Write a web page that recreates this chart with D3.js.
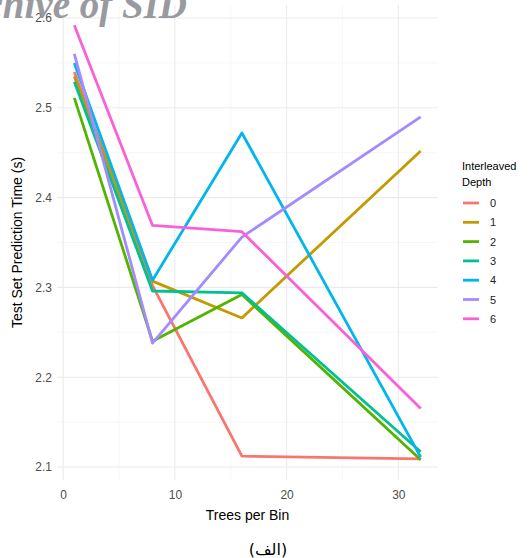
<!DOCTYPE html>
<html>
<head>
<meta charset="utf-8">
<script src="https://cdn.jsdelivr.net/npm/d3@7"></script>
<style>
body { margin: 0; background: #fff; }
text { font-family: "Liberation Sans", Arial, sans-serif; }
</style>
</head>
<body>
<svg id="chart" width="531" height="558"></svg>
<script>
// values
const treesPerBin = [1, 8, 16, 32];
const depths = ["0", "1", "2", "3", "4", "5", "6"];
const depth0 = [2.540, 2.302, 2.112, 2.109];
const depth1 = [2.535, 2.307, 2.266, 2.452];
const depth2 = [2.511, 2.240, 2.292, 2.108];
const depth3 = [2.529, 2.296, 2.294, 2.117];
const depth4 = [2.550, 2.308, 2.472, 2.111];
const depth5 = [2.560, 2.238, 2.356, 2.490];
const depth6 = [2.592, 2.369, 2.362, 2.165];
const xTicks = [0, 10, 20, 30];
const yTicks = [2.1, 2.2, 2.3, 2.4, 2.5, 2.6];
const colors = ["#F8766D", "#C49A00", "#53B400", "#00C094", "#00B6EB", "#A58AFF", "#FB61D7"];

const series = [depth0, depth1, depth2, depth3, depth4, depth5, depth6];

const svg = d3.select("#chart");
const panel = { left: 57, right: 438, top: 5, bottom: 480 };

const x = d3.scaleLinear().domain([-0.55, 33.55]).range([panel.left, panel.right]);
const y = d3.scaleLinear().domain([2.0855, 2.6145]).range([panel.bottom, panel.top]);

// grid: minor first, then major
const g = svg.append("g");
const xMinor = [5, 15, 25];
const yMinor = [2.15, 2.25, 2.35, 2.45, 2.55];
g.selectAll(".xm").data(xMinor).join("line")
  .attr("x1", d => x(d)).attr("x2", d => x(d))
  .attr("y1", panel.top).attr("y2", panel.bottom)
  .attr("stroke", "#f2f2f2").attr("stroke-width", 0.6);
g.selectAll(".ym").data(yMinor).join("line")
  .attr("y1", d => y(d)).attr("y2", d => y(d))
  .attr("x1", panel.left).attr("x2", panel.right)
  .attr("stroke", "#f2f2f2").attr("stroke-width", 0.6);
g.selectAll(".xg").data(xTicks).join("line")
  .attr("x1", d => x(d)).attr("x2", d => x(d))
  .attr("y1", panel.top).attr("y2", panel.bottom)
  .attr("stroke", "#ebebeb").attr("stroke-width", 1.1);
g.selectAll(".yg").data(yTicks).join("line")
  .attr("y1", d => y(d)).attr("y2", d => y(d))
  .attr("x1", panel.left).attr("x2", panel.right)
  .attr("stroke", "#ebebeb").attr("stroke-width", 1.1);

// axes labels
const xAxis = svg.append("g").attr("transform", `translate(0,${panel.bottom + 4})`)
  .call(d3.axisBottom(x).tickValues(xTicks).tickSize(0).tickPadding(6).tickFormat(d3.format("d")));
xAxis.select(".domain").remove();
xAxis.selectAll("text").attr("fill", "#4d4d4d").style("font-size", "12px");

const yAxis = svg.append("g").attr("transform", `translate(${panel.left - 4},0)`)
  .call(d3.axisLeft(y).tickValues(yTicks).tickSize(0).tickPadding(1).tickFormat(d3.format(".1f")));
yAxis.select(".domain").remove();
yAxis.selectAll("text").attr("fill", "#4d4d4d").style("font-size", "12px");

// lines
const line = d3.line().x((d, i) => x(treesPerBin[i])).y(d => y(d));
svg.append("g").selectAll("path").data(series).join("path")
  .attr("d", line)
  .attr("fill", "none")
  .attr("stroke", (d, i) => colors[i])
  .attr("stroke-width", 2.8)
  .attr("stroke-linejoin", "round");

// axis titles
svg.append("text").attr("x", (panel.left + panel.right) / 2).attr("y", 520)
  .attr("text-anchor", "middle").style("font-size", "14px").attr("fill", "#000")
  .text("Trees per Bin");
svg.append("text").attr("transform", `translate(22,${(panel.top + panel.bottom) / 2}) rotate(-90)`)
  .attr("text-anchor", "middle").style("font-size", "14px").attr("fill", "#000")
  .text("Test Set Prediction Time (s)");

// legend
const leg = svg.append("g").attr("transform", "translate(462,0)");
leg.append("text").attr("x", 0).attr("y", 170).style("font-size", "11px").text("Interleaved");
leg.append("text").attr("x", 0).attr("y", 186).style("font-size", "11px").text("Depth");
const item = leg.selectAll(".item").data(depths).join("g")
  .attr("transform", (d, i) => `translate(0,${203 + i * 19.3})`);
item.append("line").attr("x1", 1).attr("x2", 17)
  .attr("stroke", (d, i) => colors[i]).attr("stroke-width", 2.8);
item.append("text").attr("x", 28).attr("y", 4).style("font-size", "11px").attr("fill", "#222").text(d => d);

// caption
svg.append("text").attr("x", 268).attr("y", 555).attr("text-anchor", "middle")
  .style("font-family", "'DejaVu Sans', sans-serif").style("font-size", "16px").attr("fill", "#000")
  .text("(الف)");

// watermark (part of the source image, runs off the top-left edge)
svg.append("text").attr("x", 187).attr("y", 18).attr("text-anchor", "end")
  .style("font-family", "'Liberation Serif', 'DejaVu Serif', serif")
  .style("font-style", "italic").style("font-weight", "bold").style("font-size", "39px")
  .attr("fill", "#8e8e96").attr("opacity", 0.9)
  .text("Archive of SID");
</script>
</body>
</html>
